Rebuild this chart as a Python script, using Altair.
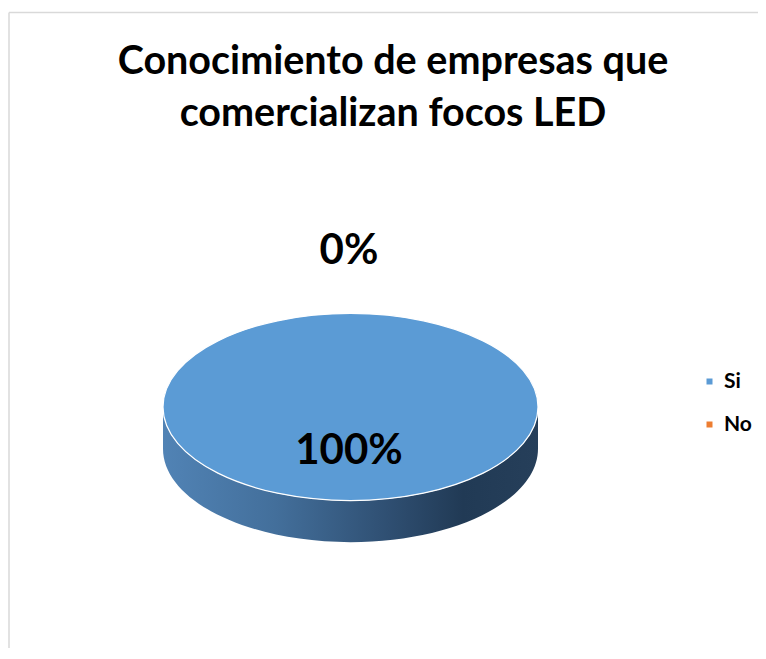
import altair as alt
import pandas as pd

# ---- data ----
categories = ["Si", "No"]
values = [100, 0]
colors = ["#5b9bd5", "#ed7d31"]
title_lines = ["Conocimiento de empresas que", "comercializan focos LED"]

df = pd.DataFrame({"category": categories, "value": values})

W, H = 750, 640
FONT = "Lato"

# ellipse (pie seen in perspective) as symbol paths, unit radius = 1
B = 0.499   # vertical radius / horizontal radius
D = 0.222   # thickness / horizontal radius
k = 0.5523
kB = k * B


def f(v):
    return f"{v:.4f}"


top_path = (
    f"M -1,0 C -1,{f(-kB)} {f(-k)},{f(-B)} 0,{f(-B)} "
    f"C {f(k)},{f(-B)} 1,{f(-kB)} 1,0 "
    f"C 1,{f(kB)} {f(k)},{f(B)} 0,{f(B)} "
    f"C {f(-k)},{f(B)} -1,{f(kB)} -1,0 Z"
)
side_path = (
    f"M -1,0 L -1,{f(D)} "
    f"C -1,{f(D + kB)} {f(-k)},{f(D + B)} 0,{f(D + B)} "
    f"C {f(k)},{f(D + B)} 1,{f(D + kB)} 1,{f(D)} "
    f"L 1,0 "
    f"C 1,{f(kB)} {f(k)},{f(B)} 0,{f(B)} "
    f"C {f(-k)},{f(B)} -1,{f(kB)} -1,0 Z"
)

CX, CY = 342.5, 399
R = 187.5
size_max = (2 * R) ** 2

base = alt.Chart(df)

size_enc = alt.Size(
    "value:Q", scale=alt.Scale(domain=[0, 100], range=[0, size_max]), legend=None
)

side = base.mark_point(
    shape=side_path,
    filled=True,
    opacity=1,
    strokeWidth=0,
    fill=alt.LinearGradient(
        gradient="linear",
        x1=0, x2=1, y1=0, y2=0,
        stops=[
            alt.GradientStop(offset=0, color="#5183b5"),
            alt.GradientStop(offset=0.3, color="#436f9b"),
            alt.GradientStop(offset=0.6, color="#2f4f72"),
            alt.GradientStop(offset=0.8, color="#213a55"),
            alt.GradientStop(offset=1, color="#263f5a"),
        ],
    ),
).encode(
    x=alt.value(CX),
    y=alt.value(CY),
    size=size_enc,
)

top = base.mark_point(
    shape=top_path,
    filled=True,
    opacity=1,
    stroke="white",
    strokeWidth=1.2,
).encode(
    x=alt.value(CX),
    y=alt.value(CY),
    size=size_enc,
    fill=alt.Fill(
        "category:N",
        scale=alt.Scale(domain=categories, range=colors),
        legend=alt.Legend(
            title=None,
            orient="none",
            legendX=691,
            legendY=363,
            padding=0,
            symbolType="square",
            symbolSize=36,
            symbolStrokeWidth=0,
            labelFont=FONT,
            labelFontWeight="bold",
            labelFontSize=21,
            labelColor="black",
            labelOffset=4,
            rowPadding=21,
        ),
    ),
)

labels = base.transform_joinaggregate(
    total="sum(value)"
).transform_calculate(
    pct="datum.value / datum.total"
).mark_text(
    font=FONT, fontWeight="bold", fontSize=42, color="black", baseline="middle", align="center"
).encode(
    x=alt.value(341),
    y=alt.Y(
        "category:N",
        scale=alt.Scale(domain=categories, range=[443, 243], padding=0),
        axis=None,
    ),
    text=alt.Text("pct:Q", format=".0%"),
)

title = alt.Chart(pd.DataFrame({"t": [0]})).mark_text(
    text=title_lines,
    font=FONT,
    fontWeight="bold",
    fontSize=39.5,
    lineHeight=52,
    color="black",
    align="center",
    baseline="alphabetic",
).encode(x=alt.value(385), y=alt.value(66))

border_top = alt.Chart(pd.DataFrame({"t": [0]})).mark_rule(
    color="#d9d9d9", strokeWidth=1.5
).encode(x=alt.value(1), x2=alt.value(W), y=alt.value(4.5))

border_left = alt.Chart(pd.DataFrame({"t": [0]})).mark_rule(
    color="#d9d9d9", strokeWidth=1.5
).encode(x=alt.value(1), y=alt.value(4.5), y2=alt.value(H))

chart = alt.layer(
    border_top, border_left, side, top, labels, title
).properties(
    width=W,
    height=H,
    autosize=alt.AutoSizeParams(type="fit", contains="padding"),
    padding=0,
    background="white",
).configure_view(strokeWidth=0)

chart.save("out.html", embed_options={"renderer": "svg", "actions": False})
